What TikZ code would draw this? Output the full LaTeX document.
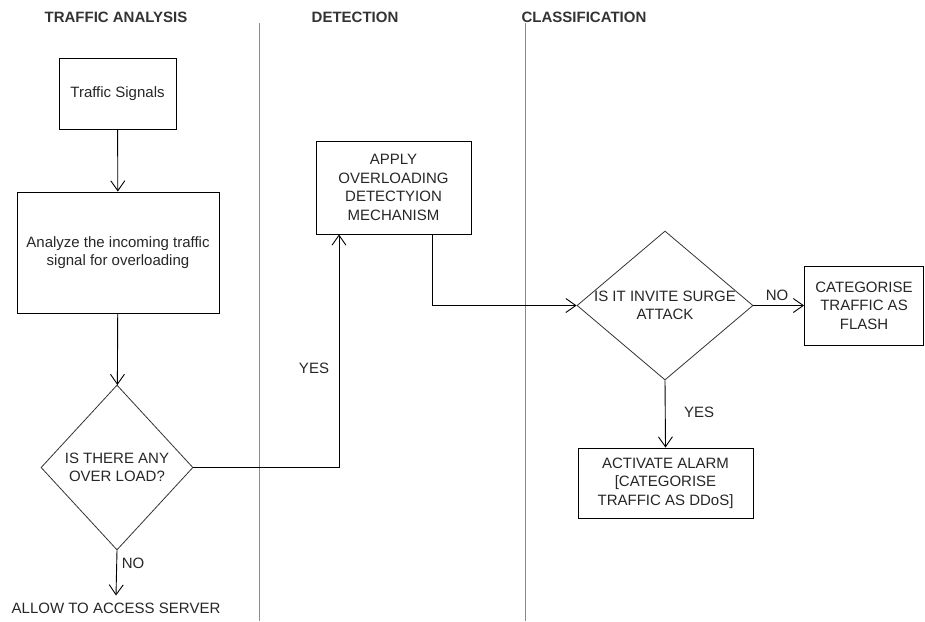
\documentclass[tikz,border=0pt]{standalone}
\usepackage{fontspec}
\setmainfont{Liberation Sans}
\usetikzlibrary{shapes.geometric,arrows.meta}
\begin{document}
\begin{tikzpicture}[x=1pt,y=-1pt,
  font=\fontsize{15}{18.5}\selectfont,
  box/.style={draw=black,line width=0.9pt,inner sep=0pt,align=center,text=black!85},
  decision/.style={draw=black!80,line width=0.8pt,shape=diamond,inner sep=0pt},
  flow/.style={line width=0.9pt,-{Straight Barb[length=10pt,width=14pt,line width=0.9pt]}},
  lane/.style={draw=black!45,line width=1pt},
  heading/.style={font=\bfseries\fontsize{15}{18}\selectfont,text=black!80},
  tag/.style={text=black!85,inner sep=0pt}]
\useasboundingbox (0,0) rectangle (925,621);

% swim-lane headings and separators
\node[heading] (h1) at (116,17) {TRAFFIC ANALYSIS};
\node[heading] (h2) at (355,17) {DETECTION};
\node[heading] (h3) at (584,17) {CLASSIFICATION};
\coordinate (s1t) at (259,23);
\coordinate (s1b) at (259,621);
\coordinate (s2t) at (525,23);
\coordinate (s2b) at (525,621);
\draw[lane] (s1t) -- (s1b);
\draw[lane] (s2t) -- (s2b);

% traffic analysis
\node[box,minimum width=117pt,minimum height=71pt] (sig) at (117.5,93.5) {Traffic Signals};
\node[box,minimum width=202pt,minimum height=121pt] (ana) at (118,252.5)
  {Analyze the incoming traffic\\signal for overloading};
\node[decision,minimum width=152pt,minimum height=165pt,
  label={[align=center,text=black!85]center:IS THERE ANY\\OVER LOAD?}] (d1) at (117,467.5) {};
\node[tag] (allow) at (116,608) {ALLOW TO ACCESS SERVER};

% detection
\node[box,minimum width=155pt,minimum height=93pt] (apply) at (393.5,187.5)
  {APPLY\\OVERLOADING\\DETECTYION\\MECHANISM};

% classification
\node[decision,minimum width=176pt,minimum height=149pt,
  label={[align=center,text=black!85]center:IS IT INVITE SURGE\\ATTACK}] (d2) at (665,305.5) {};
\node[box,minimum width=119pt,minimum height=79pt] (flash) at (864,305.5)
  {CATEGORISE\\TRAFFIC AS\\FLASH};
\node[box,minimum width=175pt,minimum height=70pt] (alarm) at (665.5,483)
  {ACTIVATE ALARM\\{[}CATEGORISE\\TRAFFIC AS DDoS{]}};

% connectors
\draw[flow] (sig) -- (ana);
\draw[flow] (ana) -- (d1);
\draw[flow] (d1.south) -- ([yshift=7pt]allow.north);
\draw[flow] (d1.east) -| ([xshift=-54.5pt]apply.south);
\draw[flow] ([xshift=38.5pt]apply.south) |- (d2.west);
\draw[flow] (d2.east) -- (flash.west);
\draw[flow] (d2.south) -- (alarm.north);

% branch labels
\node[tag] (no1) at (133,563) {NO};
\node[tag] (yes1) at (314,368) {YES};
\node[tag] (no2) at (777,295) {NO};
\node[tag] (yes2) at (699,412) {YES};
\end{tikzpicture}
\end{document}
